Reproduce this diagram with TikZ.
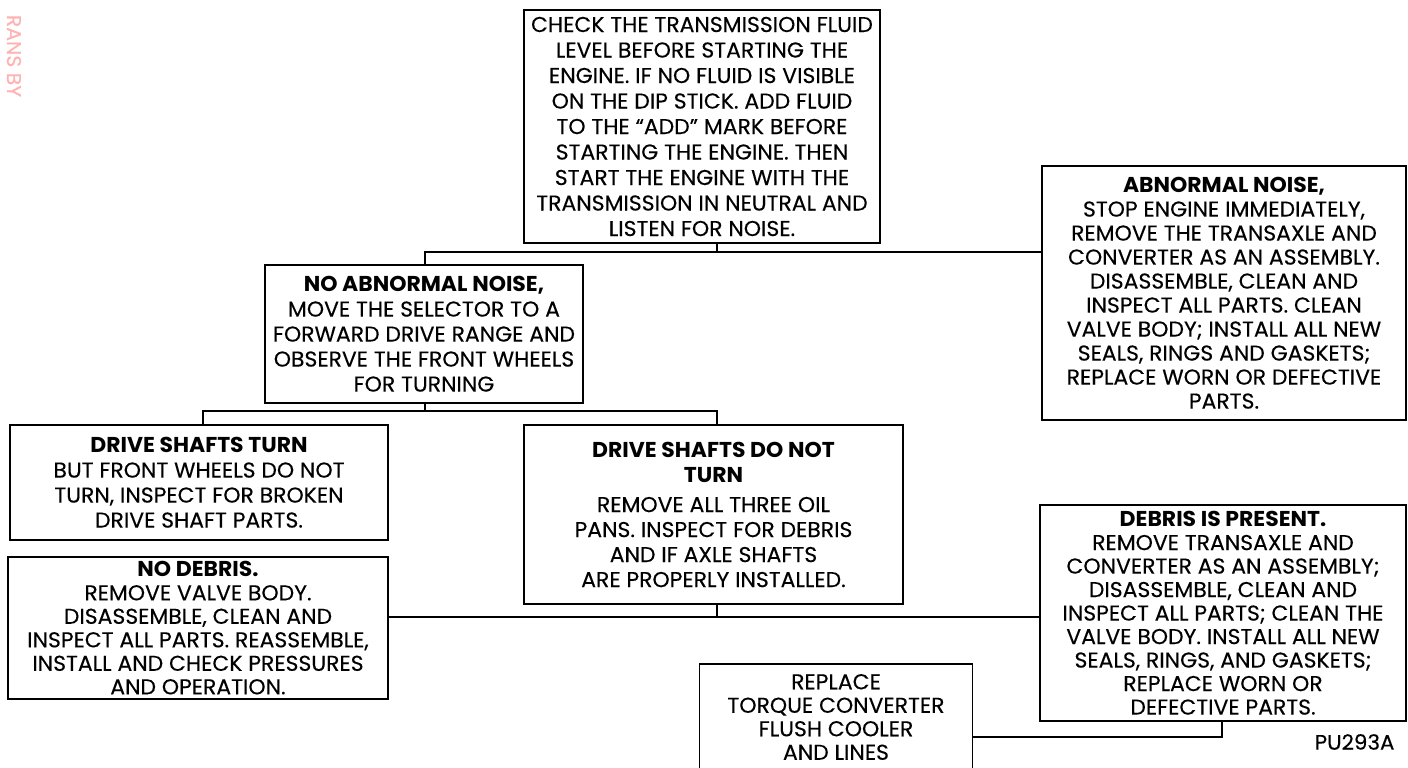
\documentclass[tikz,border=0pt]{standalone}
\usepackage{fontspec}
\setmainfont{Poppins}[FakeStretch=1.02, UprightFeatures={FakeBold=0.25}]
\begin{document}
\begin{tikzpicture}[x=1pt,y=-1pt,
  bx/.style={draw, line width=1.4pt, align=center, inner sep=0pt, font=\fontsize{21.5}{25}\selectfont},
  ln/.style={line width=1.4pt}]
\useasboundingbox (0,0) rectangle (1408,768);
\clip (0,0) rectangle (1408,768);
% watermark
\node[rotate=-90, inner sep=0pt, text=red!30, font=\fontsize{20}{24}\selectfont] (wm) at (14,56) {RANS BY};
% boxes
\node[bx, minimum width=356, minimum height=233, font=\fontsize{21.5}{25.5}\selectfont] (top) at (702,126.5)
 {CHECK THE TRANSMISSION FLUID\\LEVEL BEFORE STARTING THE\\ENGINE. IF NO FLUID IS VISIBLE\\ON THE DIP STICK. ADD FLUID\\TO THE ``ADD'' MARK BEFORE\\STARTING THE ENGINE. THEN\\START THE ENGINE WITH THE\\TRANSMISSION IN NEUTRAL AND\\LISTEN FOR NOISE.};
\node[bx, minimum width=318, minimum height=138] (nan) at (424,334)
 {\textbf{NO ABNORMAL NOISE,}\\MOVE THE SELECTOR TO A\\FORWARD DRIVE RANGE AND\\OBSERVE THE FRONT WHEELS\\FOR TURNING};
\node[bx, minimum width=364, minimum height=254, font=\fontsize{21.5}{24}\selectfont] (an) at (1224,293)
 {\textbf{ABNORMAL NOISE,}\\STOP ENGINE IMMEDIATELY,\\REMOVE THE TRANSAXLE AND\\CONVERTER AS AN ASSEMBLY.\\DISASSEMBLE, CLEAN AND\\INSPECT ALL PARTS. CLEAN\\VALVE BODY; INSTALL ALL NEW\\SEALS, RINGS AND GASKETS;\\REPLACE WORN OR DEFECTIVE\\PARTS.};
\node[bx, minimum width=378, minimum height=115] (dst) at (199,482.5)
 {\textbf{DRIVE SHAFTS TURN}\\BUT FRONT WHEELS DO NOT\\TURN, INSPECT FOR BROKEN\\DRIVE SHAFT PARTS.};
\node[bx, minimum width=379, minimum height=179] (dsnt) at (713.5,514.5)
 {\textbf{DRIVE SHAFTS DO NOT}\\\textbf{TURN}\\[5pt]REMOVE ALL THREE OIL\\PANS. INSPECT FOR DEBRIS\\AND IF AXLE SHAFTS\\ARE PROPERLY INSTALLED.};
\node[bx, minimum width=380, minimum height=142, font=\fontsize{21.5}{23.5}\selectfont] (nd) at (198,628)
 {\textbf{NO DEBRIS.}\\REMOVE VALVE BODY.\\DISASSEMBLE, CLEAN AND\\INSPECT ALL PARTS. REASSEMBLE,\\INSTALL AND CHECK PRESSURES\\AND OPERATION.};
\node[bx, minimum width=366, minimum height=216, font=\fontsize{21.5}{23.5}\selectfont] (dip) at (1223,613)
 {\textbf{DEBRIS IS PRESENT.}\\REMOVE TRANSAXLE AND\\CONVERTER AS AN ASSEMBLY;\\DISASSEMBLE, CLEAN AND\\INSPECT ALL PARTS; CLEAN THE\\VALVE BODY. INSTALL ALL NEW\\SEALS, RINGS, AND GASKETS;\\REPLACE WORN OR\\DEFECTIVE PARTS.};
\node[bx, minimum width=273, minimum height=106, font=\fontsize{21.5}{23.5}\selectfont] (rep) at (836,717)
 {REPLACE\\TORQUE CONVERTER\\FLUSH COOLER\\AND LINES};
\node[font=\fontsize{21}{24}\selectfont, anchor=east] (code) at (1398,742) {PU293A};
% connectors
\coordinate (j1) at (717,252);
\coordinate (k1) at (425,252);
\draw[ln] (top.south -| j1) -- (j1);
\draw[ln] (nan.north -| k1) |- (an.west |- j1);
\coordinate (j2) at (425,411);
\coordinate (k2) at (203,411);
\coordinate (m2) at (717,411);
\draw[ln] (nan.south -| j2) -- (j2);
\draw[ln] (dst.north -| k2) |- (m2) -- (dsnt.north -| m2);
\coordinate (j3) at (717,617);
\draw[ln] (dsnt.south -| j3) -- (j3);
\draw[ln] (nd.east |- j3) -- (dip.west |- j3);
\coordinate (j4) at (1222,737);
\draw[ln] (rep.east |- j4) -| (dip.south -| j4);
\end{tikzpicture}
\end{document}
